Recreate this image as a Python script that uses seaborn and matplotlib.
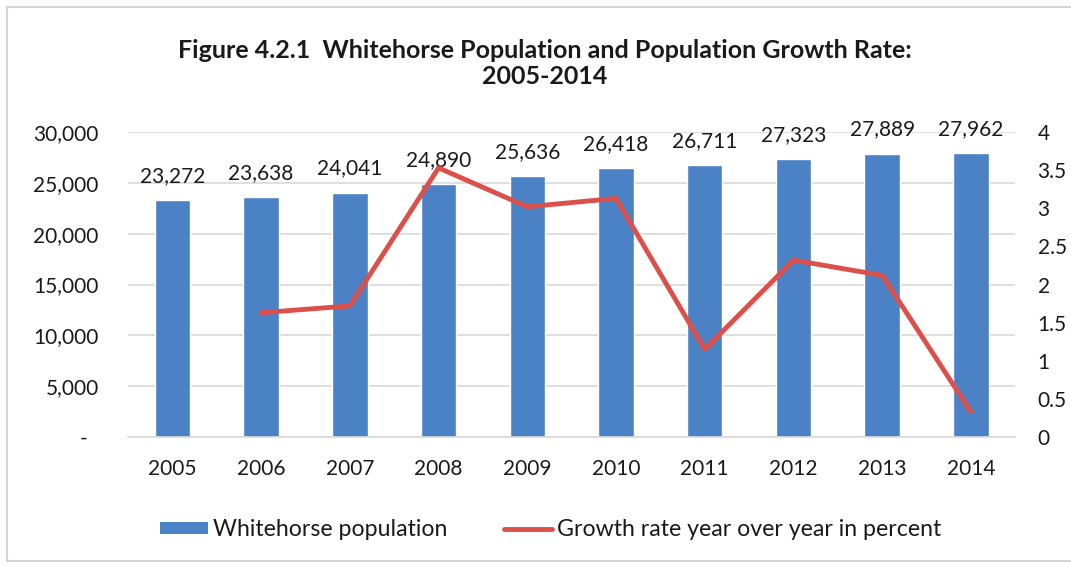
import numpy as np
import pandas as pd
import matplotlib
matplotlib.use("Agg")
import matplotlib.pyplot as plt
from matplotlib.patches import Patch
from matplotlib.lines import Line2D
from matplotlib.ticker import FixedLocator, FuncFormatter
import seaborn as sns

# Data
years = ["2005", "2006", "2007", "2008", "2009", "2010", "2011", "2012", "2013", "2014"]
population = [23272, 23638, 24041, 24890, 25636, 26418, 26711, 27323, 27889, 27962]
growth_years = ["2006", "2007", "2008", "2009", "2010", "2011", "2012", "2013", "2014"]
growth_rate = [1.63, 1.72, 3.53, 3.02, 3.13, 1.15, 2.32, 2.12, 0.33]

bar_label = "Whitehorse population"
line_label = "Growth rate year over year in percent"
title_line1 = "Figure 4.2.1  Whitehorse Population and Population Growth Rate:"
title_line2 = "2005-2014"

BLUE = "#4A82C5"
RED = "#DB504B"
GRID = "#D9D9D9"
TEXT = "#1A1A1A"

sns.set_theme(style="white")
plt.rcParams["font.family"] = ["Lato", "DejaVu Sans"]

fig = plt.figure(figsize=(10.71, 5.65), dpi=100)
fig.patch.set_facecolor("white")
ax = fig.add_axes([0.1195, 0.2265, 0.8285, 0.5398])

df = pd.DataFrame({"year": years, "population": population})
sns.barplot(data=df, x="year", y="population", color=BLUE, saturation=1,
            width=0.4, order=years, ax=ax, zorder=2)

ax.set_ylim(0, 30000)
ax.yaxis.set_major_locator(FixedLocator(np.arange(0, 30001, 5000)))
ax.yaxis.set_major_formatter(FuncFormatter(lambda v, p: "-  " if v == 0 else f"{int(v):,}"))
ax.grid(axis="y", color=GRID, lw=1.2, zorder=0)
ax.set_axisbelow(True)
for s in ["top", "right", "left"]:
    ax.spines[s].set_visible(False)
ax.spines["bottom"].set_color(GRID)
ax.spines["bottom"].set_linewidth(1.2)
ax.set_xlabel("")
ax.set_ylabel("")
ax.tick_params(axis="x", length=0, pad=16, labelsize=15, labelcolor=TEXT)
ax.tick_params(axis="y", length=0, pad=21, labelsize=15, labelcolor=TEXT)

# value labels above bars
for i, v in enumerate(population):
    ax.annotate(f"{v:,}", xy=(i, v), xytext=(0, 13), textcoords="offset points",
                ha="center", va="baseline", fontsize=15, color=TEXT)

# growth rate on secondary axis
ax2 = ax.twinx()
pos = [years.index(y) for y in growth_years]
sns.lineplot(x=pos, y=growth_rate, color=RED, lw=3.5, ax=ax2, zorder=3)
ax2.set_ylim(0, 4)
ax2.set_xlim(-0.5, len(years) - 0.5)
ax2.yaxis.set_major_locator(FixedLocator(np.arange(0, 4.01, 0.5)))
ax2.yaxis.set_major_formatter(FuncFormatter(lambda v, p: f"{v:g}"))
ax2.grid(False)
for s in ax2.spines.values():
    s.set_visible(False)
ax2.set_ylabel("")
ax2.tick_params(axis="y", length=0, pad=16, labelsize=15, labelcolor=TEXT)

# two-line title
fig.text(0.509, 1 - 50 / 565, title_line1, ha="center", va="center",
         fontsize=18, fontweight="bold", color=TEXT)
fig.text(0.509, 1 - 77 / 565, title_line2, ha="center", va="center",
         fontsize=18, fontweight="bold", color=TEXT)

handles = [Patch(facecolor=BLUE, edgecolor="none"),
           Line2D([0], [0], color=RED, lw=3.5)]
fig.legend(handles, [bar_label, line_label], loc="center", bbox_to_anchor=(0.514, 0.062),
           ncol=2, frameon=False, fontsize=16.7, handlelength=2.07, handleheight=0.4,
           handletextpad=0.22, columnspacing=2.45, labelcolor=TEXT)

# outer chart border (left, top and bottom edges)
fig.add_artist(Line2D([7 / 1071, 7 / 1071], [1 - 7 / 565, 1 - 561 / 565],
                      transform=fig.transFigure, color="#D4D4D4", lw=1.5))
fig.add_artist(Line2D([7 / 1071, 1.0], [1 - 7 / 565, 1 - 7 / 565],
                      transform=fig.transFigure, color="#D4D4D4", lw=1.5))
fig.add_artist(Line2D([7 / 1071, 1.0], [1 - 561 / 565, 1 - 561 / 565],
                      transform=fig.transFigure, color="#D4D4D4", lw=1.5))

fig.savefig("out.png", dpi=100)
